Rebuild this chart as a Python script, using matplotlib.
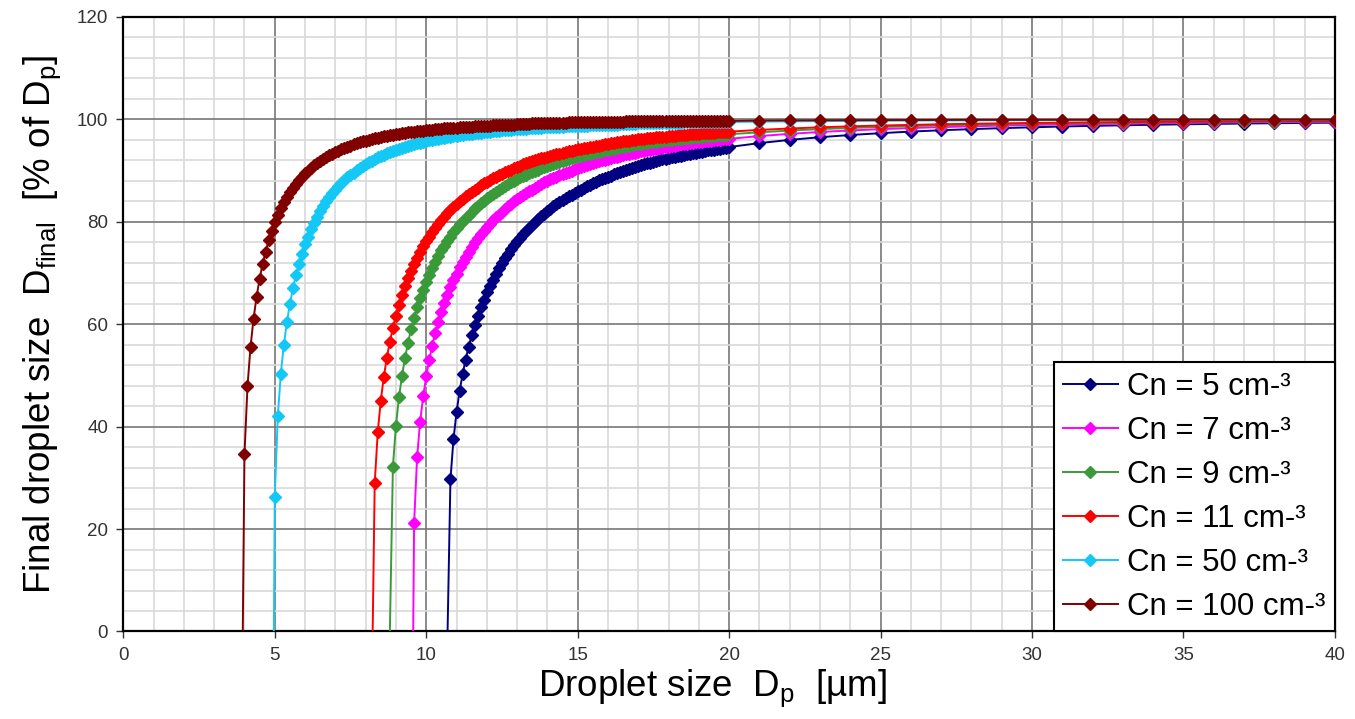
import numpy as np
import matplotlib.pyplot as plt
from matplotlib.ticker import MultipleLocator

plt.rcParams['font.family'] = ['Liberation Sans', 'DejaVu Sans']
plt.rcParams['mathtext.fontset'] = 'custom'
plt.rcParams['mathtext.rm'] = 'Liberation Sans'
plt.rcParams['mathtext.default'] = 'regular'

# series: droplet concentration Cn
labels = ['Cn = 5 cm-³', 'Cn = 7 cm-³', 'Cn = 9 cm-³',
          'Cn = 11 cm-³', 'Cn = 50 cm-³', 'Cn = 100 cm-³']
colors = ['#000080', '#ff00ff', '#3a9a3a', '#ff0000', '#14c8f5', '#800000']

# size where the curve leaves the x axis (D_final = 0)
onset = [10.705, 9.57, 8.80, 8.232, 4.97, 3.944]

# fine part: first x, then one value every 0.1 um up to 20 um
fine_start = [10.8, 9.6, 8.9, 8.3, 5.0, 4.0]

y5_fine = [29.7, 37.5, 42.8, 46.9, 50.2, 53.1, 55.6, 57.8, 59.8, 61.6, 63.3, 64.8,
           66.2, 67.5, 68.7, 69.9, 70.9, 71.9, 72.9, 73.7, 74.6, 75.4, 76.2, 76.9,
           77.6, 78.2, 78.8, 79.4, 80.0, 80.6, 81.1, 81.6, 82.1, 82.5, 83.0, 83.4,
           83.8, 84.2, 84.6, 85.0, 85.3, 85.7, 86.0, 86.3, 86.6, 87.0, 87.2, 87.5,
           87.8, 88.1, 88.3, 88.6, 88.8, 89.0, 89.3, 89.5, 89.7, 89.9, 90.1, 90.3,
           90.5, 90.7, 90.9, 91.0, 91.2, 91.4, 91.5, 91.7, 91.9, 92.0, 92.2, 92.3,
           92.4, 92.6, 92.7, 92.8, 92.9, 93.1, 93.2, 93.3, 93.4, 93.5, 93.6, 93.7,
           93.8, 94.0, 94.1, 94.1, 94.2, 94.3, 94.4, 94.5, 94.6]
y7_fine = [21.1, 34.1, 41.0, 45.9, 49.8, 53.1, 55.8, 58.3, 60.4, 62.4,
           64.2, 65.8, 67.3, 68.6, 69.9, 71.1, 72.2, 73.2, 74.2, 75.1,
           76.0, 76.8, 77.6, 78.3, 79.0, 79.6, 80.3, 80.9, 81.4, 82.0,
           82.5, 83.0, 83.5, 84.0, 84.4, 84.8, 85.2, 85.6, 86.0, 86.3,
           86.7, 87.0, 87.3, 87.7, 88.0, 88.3, 88.5, 88.8, 89.1, 89.3,
           89.6, 89.8, 90.0, 90.3, 90.5, 90.7, 90.9, 91.1, 91.3, 91.4,
           91.6, 91.8, 92.0, 92.1, 92.3, 92.4, 92.6, 92.7, 92.9, 93.0,
           93.2, 93.3, 93.4, 93.5, 93.7, 93.8, 93.9, 94.0, 94.1, 94.2,
           94.3, 94.4, 94.5, 94.6, 94.7, 94.8, 94.9, 95.0, 95.1, 95.2,
           95.2, 95.3, 95.4, 95.5, 95.5, 95.6, 95.7, 95.8, 95.8, 95.9,
           96.0, 96.0, 96.1, 96.1, 96.2]
y9_fine = [32.1, 40.2, 45.7, 49.9, 53.4, 56.4, 59.0, 61.2, 63.3, 65.1, 66.7, 68.3,
           69.7, 71.0, 72.2, 73.3, 74.4, 75.3, 76.3, 77.1, 78.0, 78.7,
           79.5, 80.1, 80.8, 81.4, 82.0, 82.6, 83.1, 83.6, 84.1, 84.6,
           85.0, 85.5, 85.9, 86.3, 86.7, 87.0, 87.4, 87.7, 88.0, 88.4,
           88.7, 88.9, 89.2, 89.5, 89.7, 90.0, 90.2, 90.5, 90.7, 90.9,
           91.1, 91.3, 91.5, 91.7, 91.9, 92.1, 92.3, 92.4, 92.6, 92.8,
           92.9, 93.1, 93.2, 93.3, 93.5, 93.6, 93.7, 93.9, 94.0, 94.1,
           94.2, 94.3, 94.5, 94.6, 94.7, 94.8, 94.9, 95.0, 95.1, 95.1,
           95.2, 95.3, 95.4, 95.5, 95.6, 95.6, 95.7, 95.8, 95.9, 95.9,
           96.0, 96.1, 96.1, 96.2, 96.3, 96.3, 96.4, 96.5, 96.5, 96.6,
           96.6, 96.7, 96.7, 96.8, 96.8, 96.9, 96.9, 97.0, 97.0, 97.1]
y11_fine = [29.0, 38.9, 45.1, 49.7, 53.5, 56.6, 59.3, 61.7,
            63.8, 65.7, 67.4, 69.0, 70.4, 71.8, 73.0, 74.1, 75.2, 76.2,
            77.1, 78.0, 78.8, 79.6, 80.3, 81.0, 81.7, 82.3, 82.9, 83.4,
            84.0, 84.5, 85.0, 85.4, 85.9, 86.3, 86.7, 87.1, 87.5, 87.8,
            88.2, 88.5, 88.8, 89.1, 89.4, 89.7, 89.9, 90.2, 90.5, 90.7,
            90.9, 91.2, 91.4, 91.6, 91.8, 92.0, 92.2, 92.4, 92.5, 92.7,
            92.9, 93.0, 93.2, 93.3, 93.5, 93.6, 93.8, 93.9, 94.0, 94.2,
            94.3, 94.4, 94.5, 94.6, 94.7, 94.8, 94.9, 95.0, 95.1, 95.2,
            95.3, 95.4, 95.5, 95.6, 95.7, 95.8, 95.8, 95.9, 96.0, 96.1,
            96.1, 96.2, 96.3, 96.3, 96.4, 96.5, 96.5, 96.6, 96.6, 96.7,
            96.8, 96.8, 96.9, 96.9, 97.0, 97.0, 97.1, 97.1, 97.2, 97.2,
            97.3, 97.3, 97.3, 97.4, 97.4, 97.5, 97.5, 97.5, 97.6, 97.6]
y50_fine = [26.2, 42.1, 50.3, 56.0, 60.4, 64.0, 67.0, 69.6, 71.8, 73.8, 75.6,
            77.1, 78.6, 79.8, 81.0, 82.1, 83.1, 84.0, 84.8, 85.6, 86.3,
            86.9, 87.5, 88.1, 88.7, 89.2, 89.6, 90.1, 90.5, 90.9, 91.3,
            91.6, 91.9, 92.3, 92.6, 92.8, 93.1, 93.4, 93.6, 93.8, 94.0,
            94.2, 94.4, 94.6, 94.8, 95.0, 95.1, 95.3, 95.4, 95.6, 95.7,
            95.9, 96.0, 96.1, 96.2, 96.3, 96.4, 96.5, 96.6, 96.7, 96.8,
            96.9, 97.0, 97.1, 97.2, 97.2, 97.3, 97.4, 97.4, 97.5, 97.6,
            97.6, 97.7, 97.8, 97.8, 97.9, 97.9, 98.0, 98.0, 98.1, 98.1,
            98.1, 98.2, 98.2, 98.3, 98.3, 98.3, 98.4, 98.4, 98.5, 98.5,
            98.5, 98.5, 98.6, 98.6, 98.6, 98.7, 98.7, 98.7, 98.7, 98.8,
            98.8, 98.8, 98.8, 98.9, 98.9, 98.9, 98.9, 99.0, 99.0, 99.0,
            99.0, 99.0, 99.0, 99.1, 99.1, 99.1, 99.1, 99.1, 99.1, 99.2,
            99.2, 99.2, 99.2, 99.2, 99.2, 99.2, 99.3, 99.3, 99.3, 99.3,
            99.3, 99.3, 99.3, 99.3, 99.4, 99.4, 99.4, 99.4, 99.4, 99.4,
            99.4, 99.4, 99.4, 99.4, 99.4, 99.5, 99.5, 99.5, 99.5, 99.5]
y100_fine = [34.6, 47.9, 55.6, 61.1, 65.4, 68.9, 71.8, 74.2, 76.4, 78.2, 79.9,
             81.3, 82.6, 83.8, 84.8, 85.8, 86.6, 87.4, 88.2, 88.8, 89.5,
             90.0, 90.6, 91.0, 91.5, 91.9, 92.3, 92.7, 93.0, 93.3, 93.6,
             93.9, 94.2, 94.4, 94.7, 94.9, 95.1, 95.3, 95.5, 95.7, 95.8,
             96.0, 96.1, 96.3, 96.4, 96.6, 96.7, 96.8, 96.9, 97.0, 97.1,
             97.2, 97.3, 97.4, 97.5, 97.6, 97.6, 97.7, 97.8, 97.8, 97.9,
             98.0, 98.0, 98.1, 98.1, 98.2, 98.3, 98.3, 98.3, 98.4, 98.4,
             98.5, 98.5, 98.6, 98.6, 98.6, 98.7, 98.7, 98.7, 98.8, 98.8,
             98.8, 98.9, 98.9, 98.9, 98.9, 99.0, 99.0, 99.0, 99.0, 99.1,
             99.1, 99.1, 99.1, 99.1, 99.2, 99.2, 99.2, 99.2, 99.2, 99.2,
             99.3, 99.3, 99.3, 99.3, 99.3, 99.3, 99.4, 99.4, 99.4, 99.4,
             99.4, 99.4, 99.4, 99.4, 99.4, 99.5, 99.5, 99.5, 99.5, 99.5,
             99.5, 99.5, 99.5, 99.5, 99.5, 99.6, 99.6, 99.6, 99.6, 99.6,
             99.6, 99.6, 99.6, 99.6, 99.6, 99.6, 99.6, 99.6, 99.6, 99.6,
             99.7, 99.7, 99.7, 99.7, 99.7, 99.7, 99.7, 99.7, 99.7, 99.7,
             99.7, 99.7, 99.7, 99.7, 99.7, 99.7, 99.7, 99.7, 99.7, 99.7]

# coarse part: one value per um from 21 to 40 um
x_coarse = [21, 22, 23, 24, 25, 26, 27, 28, 29, 30,
            31, 32, 33, 34, 35, 36, 37, 38, 39, 40]
y5_coarse = [95.37, 96.00, 96.52, 96.95, 97.31, 97.62, 97.88, 98.10, 98.29, 98.46,
             98.61, 98.74, 98.85, 98.95, 99.04, 99.12, 99.19, 99.25, 99.31, 99.36]
y7_coarse = [96.74, 97.18, 97.54, 97.84, 98.09, 98.31, 98.49, 98.65, 98.79, 98.91,
             99.01, 99.10, 99.18, 99.25, 99.31, 99.37, 99.42, 99.47, 99.51, 99.54]
y9_coarse = [97.48, 97.82, 98.10, 98.33, 98.52, 98.69, 98.83, 98.95, 99.06, 99.15,
             99.23, 99.30, 99.36, 99.42, 99.47, 99.51, 99.55, 99.58, 99.62, 99.64]
y11_coarse = [97.95, 98.22, 98.45, 98.64, 98.80, 98.93, 99.05, 99.15, 99.23, 99.31,
              99.37, 99.43, 99.48, 99.52, 99.56, 99.60, 99.63, 99.66, 99.69, 99.71]
y50_coarse = [99.56, 99.61, 99.66, 99.70, 99.74, 99.77, 99.79, 99.81, 99.83, 99.85,
              99.86, 99.88, 99.89, 99.90, 99.90, 99.91, 99.92, 99.93, 99.93, 99.94]
y100_coarse = [99.78, 99.81, 99.83, 99.85, 99.87, 99.88, 99.90, 99.91, 99.92, 99.92,
               99.93, 99.94, 99.94, 99.95, 99.95, 99.96, 99.96, 99.96, 99.97, 99.97]

fine = [y5_fine, y7_fine, y9_fine, y11_fine, y50_fine, y100_fine]
coarse = [y5_coarse, y7_coarse, y9_coarse, y11_coarse, y50_coarse, y100_coarse]

fig, ax = plt.subplots(figsize=(13.55, 7.19), dpi=100)
fig.subplots_adjust(left=0.091, right=0.9852, bottom=0.1217, top=0.9764)

for i in range(6):
    xf = np.round(fine_start[i] + 0.1 * np.arange(len(fine[i])), 1)
    xs = np.concatenate([[onset[i]], xf, x_coarse])
    ys = np.concatenate([[0], fine[i], coarse[i]])
    ax.plot(xs, ys, color=colors[i], lw=1.4, marker='D', ms=6.5,
            markevery=slice(1, None), label=labels[i], zorder=3 + i)

ax.set_xlim(0, 40)
ax.set_ylim(0, 120)
ax.xaxis.set_major_locator(MultipleLocator(5))
ax.xaxis.set_minor_locator(MultipleLocator(1))
ax.yaxis.set_major_locator(MultipleLocator(20))
ax.yaxis.set_minor_locator(MultipleLocator(4))
ax.grid(which='minor', color='#d9d9d9', lw=1.2)
ax.grid(which='major', color='#777777', lw=1.2)
ax.set_axisbelow(True)
ax.tick_params(which='minor', length=0)
ax.tick_params(which='major', length=5, width=1, color='#333333',
               labelsize=13.5, labelcolor='#333333', pad=6)
for s in ax.spines.values():
    s.set_color('black')
    s.set_linewidth(1.6)

ax.set_xlabel('Droplet size  D$_{p}$  [µm]', fontsize=26.5, labelpad=3)
ax.xaxis.label.set_x(0.486)
ax.set_ylabel('Final droplet size  D$_{final}$  [% of D$_{p}$]', fontsize=26.5, labelpad=10)

leg = ax.legend(loc='lower right', fontsize=22.5, frameon=True, fancybox=False,
                framealpha=1, edgecolor='black', borderaxespad=0,
                handlelength=1.75, handletextpad=0.3, labelspacing=0.45,
                borderpad=0.3)
leg.get_frame().set_linewidth(1.5)
leg.set_zorder(20)

fig.savefig('out.png', dpi=100)
